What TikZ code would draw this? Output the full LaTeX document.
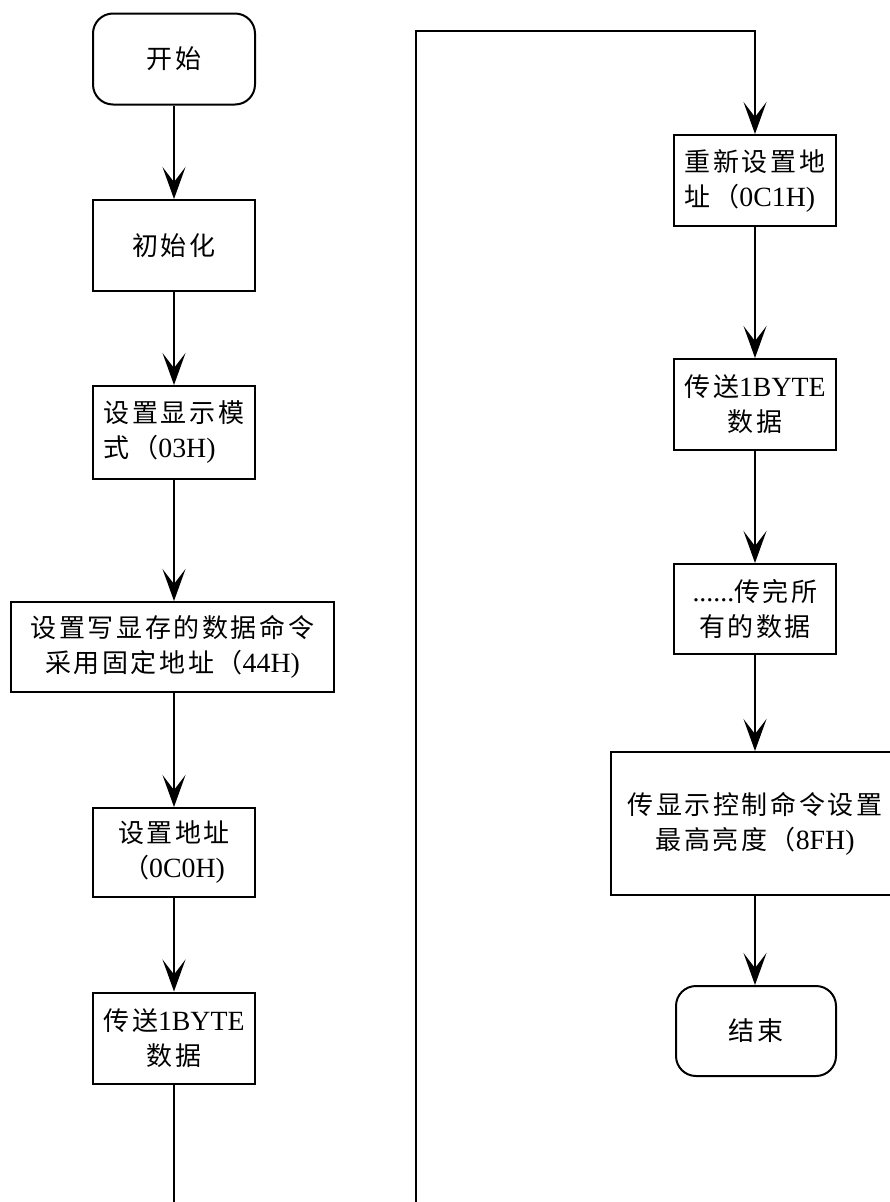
\documentclass[tikz,border=0pt]{standalone}
\usepackage{fontspec}
\setmainfont{Liberation Serif}[Scale=1.07]
\newfontfamily\cjkfont{Noto Sans CJK SC}[LetterSpace=10]
\newcommand\zh[1]{{\cjkfont #1}}
\usetikzlibrary{arrows.meta}
\tikzset{
  box/.style={draw, line width=2pt, minimum width=162pt, minimum height=91pt,
    align=center, inner sep=0pt, font=\fontsize{26}{35}\selectfont},
  term/.style={box, rounded corners=20pt},
  ln/.style={line width=2pt},
  arr/.style={ln, -{Stealth[length=32pt,width=23pt,inset=15pt]}}
}
\begin{document}
\begin{tikzpicture}[x=1pt,y=-1pt]
\useasboundingbox (0,0) rectangle (890,1202);
% left column
\node[term] (start) at (174,59) {\zh{开始}};
\node[box] (init) at (174,245.5) {\zh{初始化}};
\node[box, minimum height=93pt, align=left] (mode) at (174,432.5) {\zh{设置显示模}\\\zh{式（}03H)};
\node[box, minimum width=323pt, minimum height=90pt] (cmd) at (172.5,647) {\zh{设置写显存的数据命令}\\\zh{采用固定地址（}44H)};
\node[box, minimum height=89pt] (addr) at (174,852.5) {\zh{设置地址}\\\zh{（}0C0H)};
\node[box] (send1) at (174,1038) {\zh{传送}1BYTE\\\zh{数据}};
% right column
\node[box, align=left] (readdr) at (755,180.5) {\zh{重新设置地}\\\zh{址（}0C1H)};
\node[box] (send2) at (755,404.5) {\zh{传送}1BYTE\\\zh{数据}};
\node[box, minimum height=90pt] (rest) at (755,609) {......\zh{传完所}\\\zh{有的数据}};
\node[box, minimum width=288pt, minimum height=143pt] (ctrl) at (755,823.5) {\zh{传显示控制命令设置}\\\zh{最高亮度（}8FH)};
\node[term, minimum width=160pt, minimum height=90pt] (end) at (756,1031) {\zh{结束}};
% connectors
\coordinate (botL) at (174,1206);
\coordinate (botR) at (416,1206);
\coordinate (topR) at (416,31);
\draw[arr] (start) -- (init);
\draw[arr] (init) -- (mode);
\draw[arr] (mode.south) -- (mode.south |- cmd.north);
\draw[arr] (cmd.south -| addr.north) -- (addr);
\draw[arr] (addr) -- (send1);
\draw[ln] (send1) -- (botL);
\draw[arr] (botR) -- (topR) -| (readdr.north);
\draw[arr] (readdr) -- (send2);
\draw[arr] (send2) -- (rest);
\draw[arr] (rest.south) -- (rest.south |- ctrl.north);
\draw[arr] (ctrl.south) -- (ctrl.south |- end.north);
\end{tikzpicture}
\end{document}
